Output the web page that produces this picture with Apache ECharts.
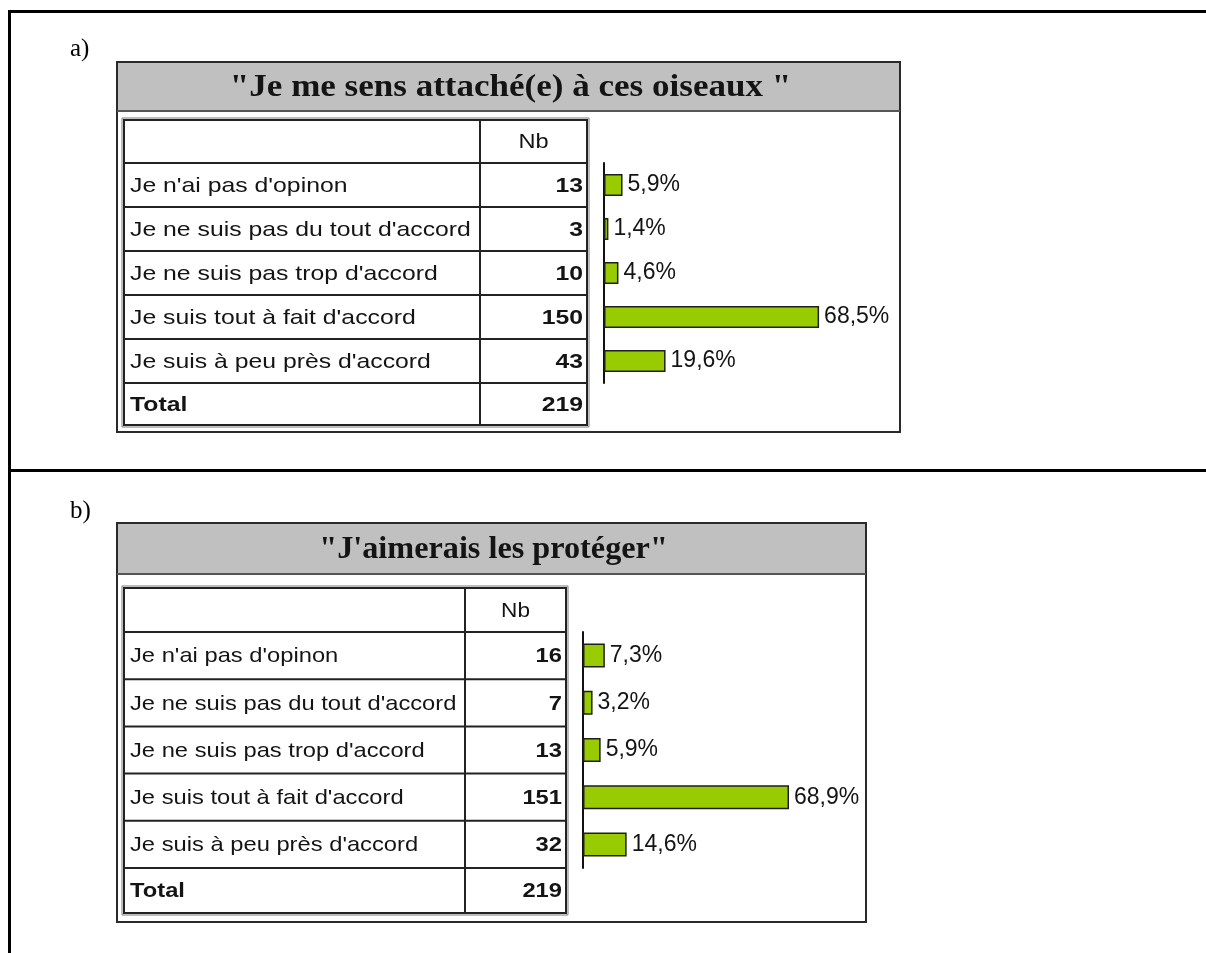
<!DOCTYPE html>
<html>
<head>
<meta charset="utf-8">
<title>Attachement aux oiseaux</title>
<script src="https://cdn.jsdelivr.net/npm/echarts@6/dist/echarts.min.js"></script>
<style>
  html, body { margin: 0; padding: 0; background: #fff; }
  #chart { width: 1206px; height: 953px; }
</style>
</head>
<body>
<div id="chart"></div>
<script>
// Answer categories, shared by both questions
const categories = [
  "Je n'ai pas d'opinon",
  "Je ne suis pas du tout d'accord",
  "Je ne suis pas trop d'accord",
  "Je suis tout à fait d'accord",
  "Je suis à peu près d'accord"
];

// a) "Je me sens attaché(e) à ces oiseaux"
const titleA = '"Je me sens attaché(e) à ces oiseaux "';
const countsA = [13, 3, 10, 150, 43];
const totalA = 219;
const pctA = [5.9, 1.4, 4.6, 68.5, 19.6];

// b) "J'aimerais les protéger"
const titleB = '"J\'aimerais les protéger"';
const countsB = [16, 7, 13, 151, 32];
const totalB = 219;
const pctB = [7.3, 3.2, 5.9, 68.9, 14.6];

const headerNb = 'Nb';
const totalLabel = 'Total';

// Page layout of the two panels
const panels = [
  {
    letter: 'a)', letterY: 49,
    title: titleA, titleScale: 1.13,
    counts: countsA, total: totalA, pct: pctA,
    box: { x: 117, y: 62, w: 783, h: 370, titleH: 49 },
    tbl: { x: 124, y: 120, split: 480, right: 587, header: 43, row: 44, totalH: 42 },
    textScale: 1.18,
    axisX: 604, pxPerPct: 3.14, barW: 22
  },
  {
    letter: 'b)', letterY: 511,
    title: titleB, titleScale: 1.04,
    counts: countsB, total: totalB, pct: pctB,
    box: { x: 117, y: 523, w: 749, h: 399, titleH: 51 },
    tbl: { x: 124, y: 588, split: 465, right: 566, header: 44, row: 47.2, totalH: 45 },
    textScale: 1.13,
    axisX: 583, pxPerPct: 2.99, barW: 24
  }
];

const INK = '#141414';
const SANS = '"Liberation Sans", Arial, sans-serif';
const SERIF = '"Liberation Serif", "Times New Roman", serif';

const graphic = [];

// Outer frame of the document table
graphic.push(
  { type: 'rect', shape: { x: 8, y: 10, width: 1198, height: 3 }, style: { fill: '#000' } },
  { type: 'rect', shape: { x: 8, y: 10, width: 3, height: 943 }, style: { fill: '#000' } },
  { type: 'rect', shape: { x: 8, y: 469, width: 1198, height: 3 }, style: { fill: '#000' } }
);

function textEl(str, x, y, opts) {
  return {
    type: 'text',
    x: x, y: y,
    scaleX: opts.scaleX || 1,
    style: {
      text: str,
      fill: opts.fill || INK,
      fontSize: opts.size,
      fontFamily: opts.family || SANS,
      fontWeight: opts.weight || 'normal',
      textAlign: opts.align || 'left',
      textVerticalAlign: 'middle'
    }
  };
}

panels.forEach(function (p) {
  const b = p.box, t = p.tbl;

  // Panel letter
  graphic.push(textEl(p.letter, 70, p.letterY, { size: 25, family: SERIF, fill: '#000' }));

  // Frame and grey title band
  graphic.push({
    type: 'rect',
    shape: { x: b.x, y: b.y, width: b.w, height: b.h },
    style: { fill: '#fff', stroke: '#2a2a2a', lineWidth: 2 }
  });
  graphic.push({
    type: 'rect',
    shape: { x: b.x + 1, y: b.y + 1, width: b.w - 2, height: b.titleH - 1 },
    style: { fill: '#c0c0c0' }
  });
  graphic.push({
    type: 'line',
    shape: { x1: b.x, y1: b.y + b.titleH, x2: b.x + b.w, y2: b.y + b.titleH },
    style: { stroke: '#555', lineWidth: 2 }
  });
  graphic.push(textEl(p.title, b.x + b.w / 2 + 2, b.y + b.titleH / 2 + 1,
    { size: 31, family: SERIF, weight: 'bold', align: 'center', scaleX: p.titleScale }));

  // Frequency table
  const rowsTop = t.y + t.header;
  const totalTop = rowsTop + t.row * p.counts.length;
  const bottom = totalTop + t.totalH;
  graphic.push({
    type: 'rect',
    shape: { x: t.x - 2, y: t.y - 2, width: t.right - t.x + 4, height: bottom - t.y + 4 },
    style: { fill: 'none', stroke: '#7a7a7a', lineWidth: 1 }
  });
  graphic.push({
    type: 'rect',
    shape: { x: t.x, y: t.y, width: t.right - t.x, height: bottom - t.y },
    style: { fill: 'none', stroke: '#222', lineWidth: 2 }
  });
  graphic.push({
    type: 'line',
    shape: { x1: t.split, y1: t.y, x2: t.split, y2: bottom },
    style: { stroke: '#222', lineWidth: 2 }
  });
  const lineYs = [rowsTop];
  for (let i = 1; i <= p.counts.length; i++) lineYs.push(rowsTop + t.row * i);
  lineYs.forEach(function (yy) {
    graphic.push({
      type: 'line',
      shape: { x1: t.x, y1: yy, x2: t.right, y2: yy },
      style: { stroke: '#222', lineWidth: 2 }
    });
  });

  graphic.push(textEl(headerNb, (t.split + t.right) / 2, t.y + t.header / 2 + 1,
    { size: 20, align: 'center', scaleX: p.textScale }));

  categories.forEach(function (c, i) {
    const cy = rowsTop + t.row * (i + 0.5) + 1;
    graphic.push(textEl(c, t.x + 6, cy, { size: 21, scaleX: p.textScale }));
    graphic.push(textEl(String(p.counts[i]), t.right - 4, cy,
      { size: 21, weight: 'bold', align: 'right', scaleX: p.textScale }));
  });
  const ty = totalTop + t.totalH / 2 + 1;
  graphic.push(textEl(totalLabel, t.x + 6, ty, { size: 21, weight: 'bold', scaleX: p.textScale }));
  graphic.push(textEl(String(p.total), t.right - 4, ty,
    { size: 21, weight: 'bold', align: 'right', scaleX: p.textScale }));
});

// Bar charts, one grid per panel, aligned with the table rows
const grids = [], xAxes = [], yAxes = [], series = [];
panels.forEach(function (p, k) {
  const t = p.tbl;
  grids.push({
    left: p.axisX,
    top: t.y + t.header,
    width: 100 * p.pxPerPct,
    height: t.row * p.counts.length
  });
  xAxes.push({ gridIndex: k, type: 'value', min: 0, max: 100, show: false });
  yAxes.push({
    gridIndex: k,
    type: 'category',
    data: categories,
    inverse: true,
    axisLine: { show: true, lineStyle: { color: '#111', width: 2 } },
    axisTick: { show: false },
    axisLabel: { show: false },
    splitLine: { show: false }
  });
  series.push({
    type: 'bar',
    xAxisIndex: k,
    yAxisIndex: k,
    data: p.pct,
    barWidth: p.barW,
    itemStyle: { color: '#99cc00', borderColor: '#1e1e1e', borderWidth: 1.5 },
    label: {
      show: true,
      position: 'right',
      distance: 5,
      color: INK,
      fontFamily: SANS,
      fontSize: 23,
      formatter: function (d) { return d.value.toFixed(1).replace('.', ',') + '%'; }
    },
    silent: true,
    animation: false
  });
});

const chart = echarts.init(document.getElementById('chart'), null, { renderer: 'canvas' });
chart.setOption({
  backgroundColor: '#fff',
  animation: false,
  grid: grids,
  xAxis: xAxes,
  yAxis: yAxes,
  series: series,
  graphic: { elements: graphic }
});
</script>
</body>
</html>
